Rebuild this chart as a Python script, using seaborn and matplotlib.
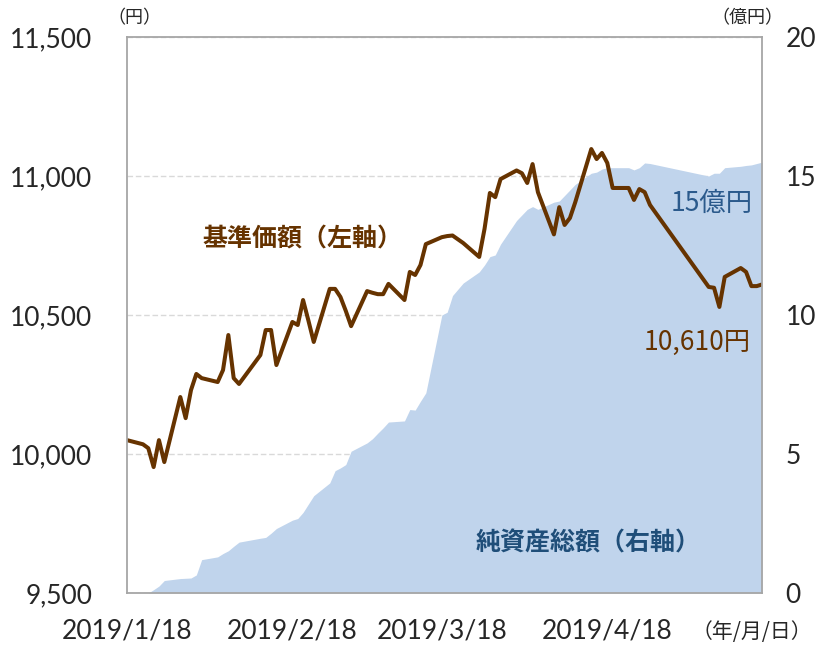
"""Fund NAV vs net assets chart."""

import matplotlib
matplotlib.use("Agg")
import matplotlib.pyplot as plt
import pandas as pd
import seaborn as sns

# business days 2019/1/18 - 2019/5/17 (JP holidays skipped)
DATES = [
    "2019-01-18", "2019-01-21", "2019-01-22", "2019-01-23", "2019-01-24",
    "2019-01-25", "2019-01-28", "2019-01-29", "2019-01-30", "2019-01-31",
    "2019-02-01", "2019-02-04", "2019-02-05", "2019-02-06", "2019-02-07",
    "2019-02-08", "2019-02-12", "2019-02-13", "2019-02-14", "2019-02-15",
    "2019-02-18", "2019-02-19", "2019-02-20", "2019-02-21", "2019-02-22",
    "2019-02-25", "2019-02-26", "2019-02-27", "2019-02-28", "2019-03-01",
    "2019-03-04", "2019-03-05", "2019-03-06", "2019-03-07", "2019-03-08",
    "2019-03-11", "2019-03-12", "2019-03-13", "2019-03-14", "2019-03-15",
    "2019-03-18", "2019-03-19", "2019-03-20", "2019-03-22", "2019-03-25",
    "2019-03-26", "2019-03-27", "2019-03-28", "2019-03-29", "2019-04-01",
    "2019-04-02", "2019-04-03", "2019-04-04", "2019-04-05", "2019-04-08",
    "2019-04-09", "2019-04-10", "2019-04-11", "2019-04-12", "2019-04-15",
    "2019-04-16", "2019-04-17", "2019-04-18", "2019-04-19", "2019-04-22",
    "2019-04-23", "2019-04-24", "2019-04-25", "2019-04-26", "2019-05-07",
    "2019-05-08", "2019-05-09", "2019-05-10", "2019-05-13", "2019-05-14",
    "2019-05-15", "2019-05-16", "2019-05-17",
]

# 基準価額 (円)
NAV = [
    10050, 10035, 10021, 9953, 10050, 9971, 10205, 10129, 10230, 10288,
    10273, 10259, 10302, 10428, 10273, 10252, 10356, 10446, 10446, 10320,
    10475, 10464, 10554, 10480, 10403, 10594, 10594, 10565, 10515, 10460,
    10586, 10580, 10575, 10575, 10612, 10554, 10655, 10644, 10680, 10755,
    10780, 10784, 10786, 10759, 10709, 10810, 10939, 10924, 10989, 11020,
    11010, 10975, 11043, 10942, 10790, 10888, 10824, 10849, 10906, 11097,
    11061, 11083, 11047, 10957, 10957, 10914, 10953, 10942, 10896, 10601,
    10598, 10529, 10637, 10669, 10655, 10604, 10604, 10610,
]

# 純資産総額 (億円)
ASSETS = [
    0.0, 0.0, 0.0, 0.12, 0.25, 0.45, 0.52, 0.53, 0.54, 0.65,
    1.2, 1.3, 1.42, 1.52, 1.68, 1.83, 1.97, 2.0, 2.15, 2.32,
    2.62, 2.68, 2.9, 3.2, 3.5, 3.96, 4.4, 4.5, 4.62, 5.1,
    5.4, 5.55, 5.75, 5.94, 6.15, 6.19, 6.6, 6.58, 6.9, 7.2,
    10.0, 10.1, 10.7, 11.15, 11.55, 11.8, 12.1, 12.16, 12.55, 13.4,
    13.6, 13.8, 13.9, 13.8, 14.06, 14.1, 14.3, 14.5, 14.7, 15.1,
    15.14, 15.25, 15.3, 15.3, 15.3, 15.22, 15.3, 15.47, 15.45, 15.0,
    15.1, 15.1, 15.3, 15.35, 15.38, 15.4, 15.45, 15.5,
]

NAV_TICKS = [9500, 10000, 10500, 11000, 11500]
NAV_LABELS = ["9,500", "10,000", "10,500", "11,000", "11,500"]
ASSET_TICKS = [0, 5, 10, 15, 20]
X_TICKS = ["2019-01-18", "2019-02-18", "2019-03-18", "2019-04-18"]
X_LABELS = ["2019/1/18", "2019/2/18", "2019/3/18", "2019/4/18"]

BROWN = "#663300"
AREA = "#C0D4EC"
NAVY = "#1F4E79"
SPINE = "#A6A6A6"

sns.set_style("white")
plt.rcParams["font.family"] = ["Lato", "Noto Sans CJK JP"]

df = pd.DataFrame({"date": pd.to_datetime(DATES), "nav": NAV, "assets": ASSETS})

fig = plt.figure(figsize=(8.19, 6.45), dpi=100)
ax = fig.add_axes([0.155, 0.0806, 0.7755, 0.862])
ax2 = ax.twinx()
ax.set_zorder(ax2.get_zorder() + 1)
ax.patch.set_visible(False)

# net assets area (right axis), gridlines sit behind it
ax2.fill_between(df["date"], df["assets"], 0, color=AREA, linewidth=0, zorder=1)
ax2.set_ylim(0, 20)
ax2.set_yticks(ASSET_TICKS)
ax2.set_axisbelow(True)
ax2.grid(axis="y", color="#D9D9D9", linestyle=(0, (4, 2)), linewidth=1.0)
ax2.tick_params(axis="y", length=0, pad=17, labelsize=19)
for sp in ax2.spines.values():
    sp.set_visible(False)

# NAV line (left axis)
sns.lineplot(data=df, x="date", y="nav", ax=ax, color=BROWN, linewidth=2.9)
ax.set_ylim(9500, 11500)
ax.set_yticks(NAV_TICKS)
ax.set_yticklabels(NAV_LABELS)
ax.set_xlim(df["date"].iloc[0], df["date"].iloc[-1])
ax.set_xticks(pd.to_datetime(X_TICKS))
ax.set_xticklabels(X_LABELS)
ax.set_xlabel("")
ax.set_ylabel("")
ax.grid(False)
ax.tick_params(axis="y", length=0, pad=25, labelsize=19)
ax.tick_params(axis="x", direction="in", length=6, width=1.2, color=SPINE,
               pad=18, labelsize=19)
for sp in ax.spines.values():
    sp.set_visible(True)
    sp.set_color(SPINE)
    sp.set_linewidth(1.3)

# annotations
ax.text(0.277, 0.635, "基準価額（左軸）", transform=ax.transAxes, ha="center",
        va="center", fontsize=18, fontweight="bold", color=BROWN,
        family="Noto Sans CJK JP")
ax.text(0.726, 0.090, "純資産総額（右軸）", transform=ax.transAxes, ha="center",
        va="center", fontsize=18, fontweight="bold", color=NAVY,
        family="Noto Sans CJK JP")
ax.text(0.920, 0.701, "15億円", transform=ax.transAxes, ha="center",
        va="center", fontsize=19, color="#2B5A8C", family="Noto Sans CJK JP")
ax.text(0.898, 0.450, "10,610円", transform=ax.transAxes, ha="center",
        va="center", fontsize=19, color=BROWN, family="Noto Sans CJK JP")

fig.text(0.1636, 0.972, "（円）", ha="center", va="center", fontsize=13,
         family="Noto Sans CJK JP")
fig.text(0.913, 0.972, "（億円）", ha="center", va="center", fontsize=13,
         family="Noto Sans CJK JP")
fig.text(0.918, 0.020, "（年/月/日）", ha="center", va="center", fontsize=15,
         family="Noto Sans CJK JP")

fig.savefig("out.png", dpi=100)
plt.close(fig)
